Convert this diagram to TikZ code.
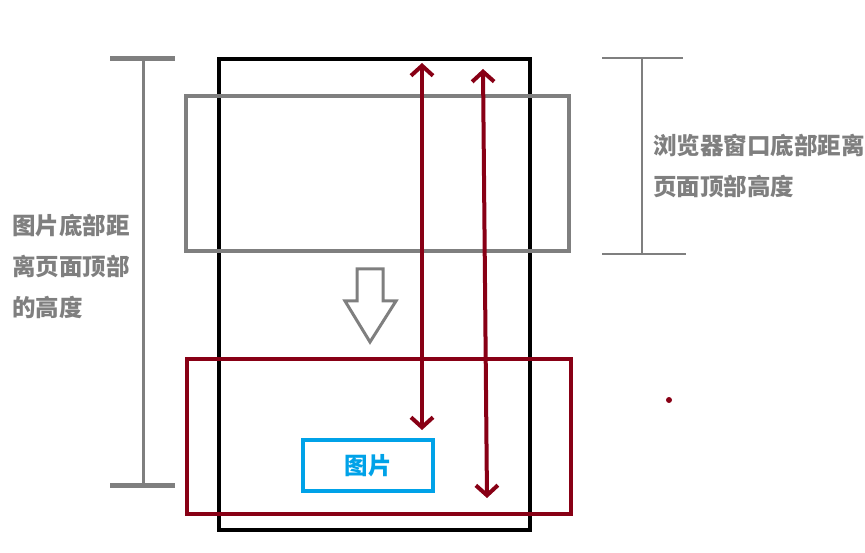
\documentclass[tikz,border=0pt]{standalone}
\usepackage{fontspec}
\newfontfamily\cjk{Noto Sans CJK SC}
\usetikzlibrary{arrows.meta}
\definecolor{pgray}{RGB}{127,127,127}
\definecolor{pred}{RGB}{136,0,21}
\definecolor{pblue}{RGB}{0,162,232}

\begin{document}
\begin{tikzpicture}[x=1pt, y=-1pt, every node/.style={font=\cjk\bfseries\fontsize{23.5}{41}\selectfont, inner sep=0pt},
	frame/.style={line width=4.5pt},
	bracket/.style={pgray, line width=3pt},
	label/.style={pgray, anchor=north west, align=left},
	span/.style={pred, line width=4pt, {Straight Barb[length=10pt,width=22pt]}-{Straight Barb[length=10pt,width=22pt]}}]
	\useasboundingbox (0,0) rectangle (865,553);
	% page, viewport before and after scrolling
	\draw[frame, black] (219,59) rectangle (530,530);
	\draw[frame, pgray] (186,96) rectangle (569,251);
	\draw[frame, pred] (187,359) rectangle (571,514);
	\node[draw=pblue, line width=4.5pt, minimum width=130pt, minimum height=51pt, pblue] (img) at (368,465.5) {图片};
	% scroll direction
	\draw[pgray, line width=3pt, line join=miter] (357,269) -- (383,269) -- (383,301) -- (396,301) -- (370,342) -- (345,301) -- (357,301) -- cycle;
	% left measure
	\coordinate (lt) at (143,59);
	\coordinate (lb) at (143,485);
	\draw[bracket] (lt) -- (lb);
	\draw[bracket, line width=5pt] ([xshift=-33pt]lt) -- ([xshift=32pt]lt);
	\draw[bracket, line width=5pt] ([xshift=-33pt]lb) -- ([xshift=32pt]lb);
	\node[label] (imgtxt) at (12,214) {图片底部距\\离页面顶部\\的高度};
	% right measure
	\coordinate (rt) at (642,58);
	\coordinate (rb) at (642,254);
	\draw[bracket, line width=2.5pt] (rt) -- (rb);
	\draw[bracket, line width=2.5pt] ([xshift=-40pt]rt) -- ([xshift=41pt]rt);
	\draw[bracket, line width=2.5pt] ([xshift=-40pt]rb) -- ([xshift=44pt]rb);
	\node[label] (wintxt) at (653,134) {浏览器窗口底部距离\\页面顶部高度};
	% distances
	\coordinate (a1) at (422,63);
	\coordinate (a2) at (422,430);
	\coordinate (b1) at (483,69);
	\coordinate (b2) at (487,498);
	\draw[span] (a1) -- (a2);
	\draw[span] (b1) -- (b2);
	\fill[pred] (669,400) circle (3pt);
\end{tikzpicture}
\end{document}
